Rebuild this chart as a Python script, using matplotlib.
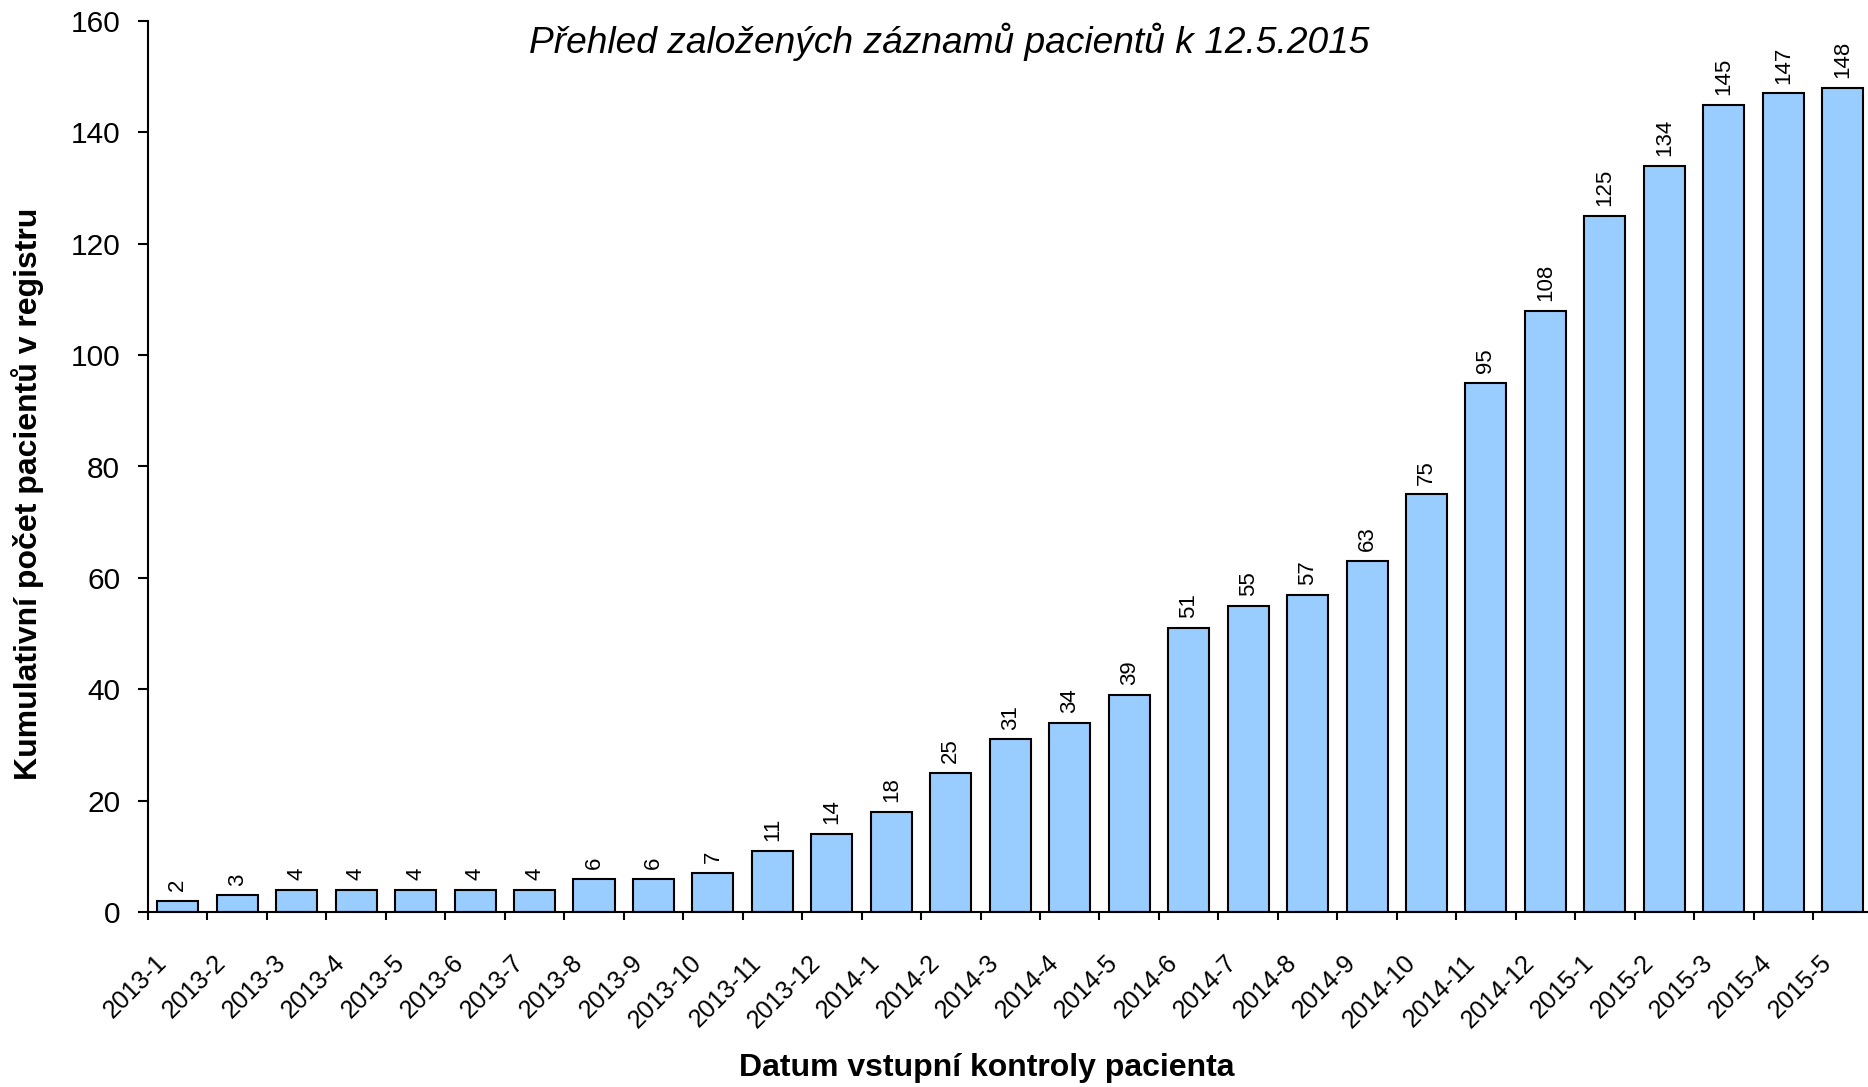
import matplotlib.pyplot as plt
import numpy as np
from matplotlib.transforms import ScaledTranslation

plt.rcParams['font.family'] = ['Liberation Sans', 'DejaVu Sans']

# data
months = ['2013-1', '2013-2', '2013-3', '2013-4', '2013-5', '2013-6', '2013-7',
          '2013-8', '2013-9', '2013-10', '2013-11', '2013-12',
          '2014-1', '2014-2', '2014-3', '2014-4', '2014-5', '2014-6', '2014-7',
          '2014-8', '2014-9', '2014-10', '2014-11', '2014-12',
          '2015-1', '2015-2', '2015-3', '2015-4', '2015-5']
patients = [2, 3, 4, 4, 4, 4, 4, 6, 6, 7, 11, 14, 18, 25, 31, 34, 39, 51, 55,
            57, 63, 75, 95, 108, 125, 134, 145, 147, 148]

fig = plt.figure(figsize=(18.68, 10.87), dpi=100)
ax = fig.add_axes([148 / 1868, 1 - 912 / 1087, 1724.5 / 1868, 891 / 1087])

x = np.arange(len(months))
ax.bar(x, patients, width=0.69, color='#99CCFF', edgecolor='black', linewidth=1.5, zorder=2)

# popisky hodnot nad sloupci
for xi, v in zip(x, patients):
    ax.annotate(str(v), (xi, v), xytext=(0, 7), textcoords='offset points',
                rotation=90, ha='center', va='bottom', fontsize=16)

ax.set_xlim(-0.5, len(months) - 0.5)
ax.set_ylim(0, 160)
ax.set_yticks(np.arange(0, 161, 20))
ax.tick_params(axis='y', labelsize=21.5, length=7, width=1.5, pad=13, direction='out')

# ticky mezi kategoriemi, popisky uprostred
ax.set_xticks(x - 0.5, minor=True)
ax.tick_params(axis='x', which='minor', length=6, width=1.5, direction='out')
ax.set_xticks(x)
ax.set_xticklabels(months, rotation=45, ha='right', va='center', rotation_mode='anchor')
ax.tick_params(axis='x', which='major', length=0, labelsize=18, pad=34)
offset = ScaledTranslation(-15 / 100, 0, fig.dpi_scale_trans)
for lbl in ax.get_xticklabels():
    lbl.set_transform(lbl.get_transform() + offset)

for s in ['top', 'right']:
    ax.spines[s].set_visible(False)
ax.spines['left'].set_linewidth(1.5)
ax.spines['bottom'].set_linewidth(1.5)

fig.text(0.508, 1 - 42 / 1087, 'Přehled založených záznamů pacientů k 12.5.2015',
         ha='center', va='center', fontsize=26.7, style='italic')
fig.text(28 / 1868, 1 - 494 / 1087, 'Kumulativní počet pacientů v registru',
         rotation=90, ha='center', va='center', fontsize=23, fontweight='bold')
fig.text(987 / 1868, 1 - 1068 / 1087, 'Datum vstupní kontroly pacienta',
         ha='center', va='center', fontsize=23, fontweight='bold')

fig.savefig('out.png', dpi=100)
